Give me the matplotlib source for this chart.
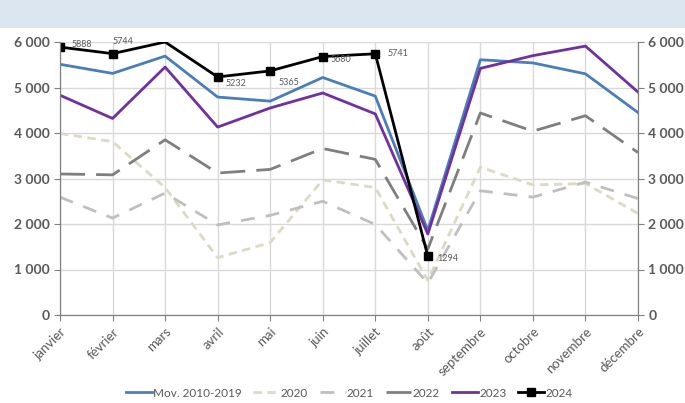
import numpy as np
import matplotlib.pyplot as plt
from matplotlib.patches import Rectangle
from matplotlib.ticker import FuncFormatter

plt.rcParams['font.family'] = ['Lato', 'DejaVu Sans']

months = ["janvier", "février", "mars", "avril", "mai", "juin", "juillet",
          "août", "septembre", "octobre", "novembre", "décembre"]

moy_2010_2019 = [5510, 5310, 5690, 4790, 4700, 5220, 4810, 1860, 5610, 5540, 5300, 4450]
y2020 = [3990, 3810, 2800, 1260, 1590, 2970, 2800, 760, 3250, 2860, 2890, 2230]
y2021 = [2590, 2130, 2680, 1980, 2190, 2500, 1990, 700, 2730, 2590, 2920, 2560]
y2022 = [3100, 3080, 3850, 3120, 3200, 3660, 3420, 1450, 4440, 4040, 4380, 3570]
y2023 = [4830, 4320, 5450, 4130, 4550, 4880, 4420, 1780, 5420, 5700, 5910, 4900]
y2024 = [5888, 5744, 6000, 5232, 5365, 5680, 5741, 1294]

# labels shown on the 2024 series (index, text, offset in points)
labels_2024 = [(0, "5888", (8, 2)), (1, "5744", (0, 9)), (3, "5232", (6, -5)),
               (4, "5365", (6, -8)), (5, "5680", (6, -2)), (6, "5741", (9, 0)),
               (7, "1294", (7, -2))]

grey = "#595959"
x = np.arange(len(months))

fig = plt.figure(figsize=(6.85, 4.03), dpi=100)
fig.patches.append(Rectangle((0, 1 - 28 / 403), 1, 28 / 403, transform=fig.transFigure,
                             facecolor="#dce6f1", edgecolor="none", zorder=0))
ax = fig.add_axes([60 / 685, 1 - 315 / 403, (638 - 60) / 685, (315 - 42) / 403])

ax.plot(x, moy_2010_2019, color="#4a7ebb", lw=2, label="Mov. 2010-2019")
ax.plot(x, y2020, color="#ddd9c3", lw=2, dashes=(3, 2), label="2020")
ax.plot(x, y2021, color="#bfbfbf", lw=2, dashes=(5, 4), label="2021")
ax.plot(x, y2022, color="#7f7f7f", lw=2, dashes=(9, 4), label="2022")
ax.plot(x, y2023, color="#7030a0", lw=2, label="2023")
ax.plot(np.arange(len(y2024)), y2024, color="black", lw=2, marker="s", ms=6,
        markevery=[0, 1, 3, 4, 5, 6, 7], label="2024")

for i, txt, off in labels_2024:
    ax.annotate(txt, (i, y2024[i]), xytext=off, textcoords="offset points",
                fontsize=6.5, color=grey, ha="left", va="center", annotation_clip=False)

ax.set_xlim(0, len(months) - 1)
ax.set_ylim(0, 6000)
ax.set_yticks(np.arange(0, 6001, 1000))
fmt = FuncFormatter(lambda v, p: f"{int(v):,}".replace(",", " "))
ax.yaxis.set_major_formatter(fmt)
ax.set_xticks(x)
ax.set_xticklabels(months, rotation=45, ha="right", rotation_mode="anchor",
                   fontsize=9.5, color=grey)
ax.tick_params(axis="y", labelsize=10, labelcolor=grey, length=4, color="#808080")
ax.tick_params(axis="x", length=4, color="#808080")
for lbl in ax.get_yticklabels():
    lbl.set_fontweight("bold")
ax.grid(True, color="#d9d9d9", lw=1)
ax.set_axisbelow(True)
ax.spines["top"].set_visible(False)
for s in ["left", "right", "bottom"]:
    ax.spines[s].set_color("#808080")

ax2 = ax.twinx()
ax2.set_ylim(0, 6000)
ax2.set_yticks(np.arange(0, 6001, 1000))
ax2.yaxis.set_major_formatter(fmt)
ax2.tick_params(axis="y", labelsize=10, labelcolor=grey, length=4, color="#808080")
for lbl in ax2.get_yticklabels():
    lbl.set_fontweight("bold")
ax2.spines["top"].set_visible(False)
for s in ["left", "right", "bottom"]:
    ax2.spines[s].set_color("#808080")

ax.legend(loc="lower center", bbox_to_anchor=(0.5, -0.345), ncol=6, frameon=False,
          fontsize=8.5, handlelength=2.2, handletextpad=0.1, columnspacing=1.0,
          labelcolor=grey)

fig.savefig("out.png", dpi=100)
